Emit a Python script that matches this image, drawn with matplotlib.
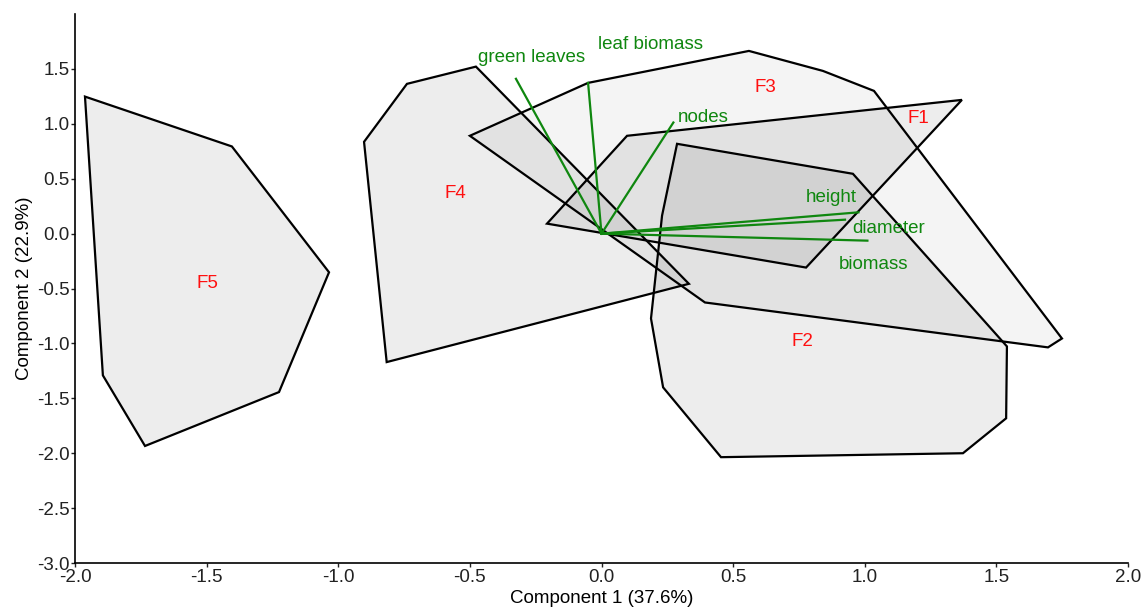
import matplotlib
matplotlib.use("Agg")
import matplotlib.pyplot as plt
from matplotlib.patches import Polygon

plt.rcParams['font.family'] = ['Liberation Sans', 'DejaVu Sans']

# convex hulls of the five groups (Component 1, Component 2)
f1_x = [-0.207, 0.097, 1.369, 0.777]
f1_y = [0.091, 0.891, 1.218, -0.309]
f2_x = [0.287, 0.955, 1.540, 1.537, 1.373, 0.454, 0.234, 0.188, 0.230]
f2_y = [0.818, 0.545, -1.027, -1.682, -2.000, -2.036, -1.400, -0.773, 0.164]
f3_x = [-0.500, -0.051, 0.560, 0.841, 1.035, 1.749, 1.696, 0.393]
f3_y = [0.891, 1.373, 1.664, 1.482, 1.300, -0.955, -1.036, -0.627]
f4_x = [-0.902, -0.739, -0.477, 0.332, -0.816]
f4_y = [0.836, 1.364, 1.521, -0.457, -1.170]
f5_x = [-1.962, -1.404, -1.035, -1.225, -1.734, -1.894]
f5_y = [1.248, 0.794, -0.352, -1.443, -1.934, -1.291]

group_names = ['F1', 'F2', 'F3', 'F4', 'F5']
group_label_x = [1.202, 0.762, 0.621, -0.556, -1.498]
group_label_y = [1.045, -0.982, 1.327, 0.364, -0.455]

# loading vectors
var_names = ['green leaves', 'leaf biomass', 'nodes', 'height', 'diameter', 'biomass']
load_x = [-0.325, -0.051, 0.273, 0.976, 0.925, 1.010]
load_y = [1.410, 1.373, 1.012, 0.194, 0.127, -0.064]
var_label_x = [-0.266, 0.188, 0.290, 0.872, 1.089, 1.035]
var_label_y = [1.600, 1.727, 1.060, 0.327, 0.045, -0.280]
var_ha = ['center', 'center', 'left', 'center', 'center', 'center']

fs = 13.5

fig = plt.figure(figsize=(11.43, 6.10), dpi=100)
ax = fig.add_axes([0.0656, 0.077, 0.9213, 0.900])

hulls = [(f1_x, f1_y, 0.07), (f2_x, f2_y, 0.07), (f3_x, f3_y, 0.045),
         (f4_x, f4_y, 0.07), (f5_x, f5_y, 0.07)]
for xs, ys, a in hulls:
    pts = list(zip(xs, ys))
    ax.add_patch(Polygon(pts, closed=True, facecolor=(0, 0, 0, a),
                         edgecolor='black', linewidth=1.6, joinstyle='miter'))

for name, lx, ly in zip(group_names, group_label_x, group_label_y):
    ax.text(lx, ly, name, color='#ff1010', fontsize=fs, ha='center', va='center')

for i in range(len(var_names)):
    ax.plot([0, load_x[i]], [0, load_y[i]], color='#0f870f', linewidth=1.6)
    ax.text(var_label_x[i], var_label_y[i], var_names[i], color='#0f870f',
            fontsize=fs, ha=var_ha[i], va='center')

ax.set_xlim(-2.0, 2.0)
ax.set_ylim(-3.0, 2.0)
ax.set_xticks([-2.0, -1.5, -1.0, -0.5, 0.0, 0.5, 1.0, 1.5, 2.0])
ax.set_yticks([-3.0, -2.5, -2.0, -1.5, -1.0, -0.5, 0.0, 0.5, 1.0, 1.5])
ax.xaxis.set_major_formatter(matplotlib.ticker.FormatStrFormatter('%.1f'))
ax.yaxis.set_major_formatter(matplotlib.ticker.FormatStrFormatter('%.1f'))
ax.tick_params(labelsize=fs, length=3, width=1, pad=1, colors='#222222')
ax.spines['top'].set_visible(False)
ax.spines['right'].set_visible(False)
ax.spines['left'].set_linewidth(1.2)
ax.spines['bottom'].set_linewidth(1.2)
ax.set_xlabel('Component 1 (37.6%)', fontsize=fs, labelpad=3)
ax.set_ylabel('Component 2 (22.9%)', fontsize=fs, labelpad=3)

fig.savefig('out.png', dpi=100)
